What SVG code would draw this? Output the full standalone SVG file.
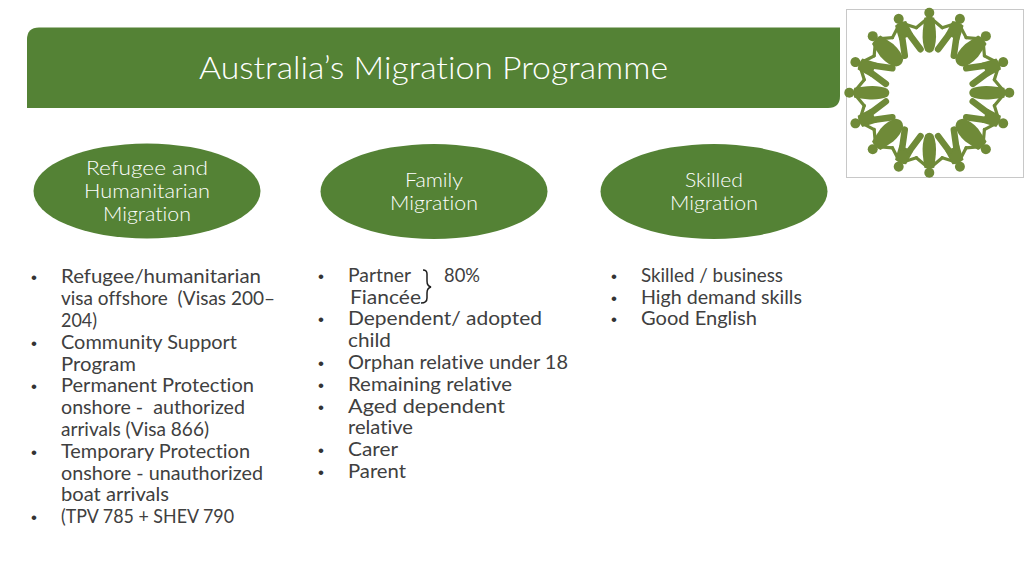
<svg xmlns="http://www.w3.org/2000/svg" width="1024" height="576" viewBox="0 0 1024 576">
<defs>
<style>
text{font-family:"Lato","Liberation Sans",sans-serif;fill:#404040;font-size:18.6px;white-space:pre;font-variant-ligatures:none}
.w{fill:#fff;font-size:19px;font-weight:300}
.t{fill:#fff;font-size:31px;font-weight:300}
.b{font-family:"Liberation Sans",sans-serif;font-size:17px;fill:#333}
.oval{fill:#548235}
.fig{fill:#6f8a38}
.leg{fill:none;stroke:#6f8a38;stroke-width:6.500;stroke-linecap:round}
.arm{fill:none;stroke:#6f8a38;stroke-width:3.200;stroke-linejoin:round;stroke-linecap:round}
.bar{fill:none;stroke:#1f1f1f;stroke-width:1.500}
</style>
<g id="arms"><circle cx="0" cy="-80" r="5" class="fig"/><path class="arm" d="M-4-72.500L-13-65M4-72.500L13-65"/></g>
<g id="dress"><use href="#arms"/><path class="fig" d="M-5-75Q0-77 5-75L6.500-62Q7.500-50 4-42Q0-38-4-42Q-7.500-50-6.500-62Z"/></g>
<g id="wide"><use href="#arms"/><path class="fig" d="M-6-75Q0-77 6-75L9-60Q9.500-48 5-42Q0-38-5-42Q-9.500-48-9-60Z"/></g>
<g id="trousers"><use href="#arms"/><path class="fig" d="M-6-75Q0-77 6-75L7.500-60L-7.500-60Z"/><path class="leg" d="M-4-61L-8.500-43.500M4-61L8.500-43.500"/></g>
</defs>
<rect width="1024" height="576" fill="#fff"/>
<g id="banner"><path d="M39 27.500H840V96Q840 108 828 108H27V39.500Q27 27.500 39 27.500Z" fill="#548235"/><text class="t" x="199" y="79" textLength="469" lengthAdjust="spacingAndGlyphs">Australia’s Migration Programme</text></g>
<g id="logo"><rect x="846.500" y="9.500" width="177" height="168" fill="#fff" stroke="#c8c8c8"/>
<g transform="translate(929.300 92.700)">
<use href="#dress"/><use href="#trousers" transform="rotate(22.500)"/><use href="#wide" transform="rotate(45)"/><use href="#trousers" transform="rotate(67.500)"/><use href="#dress" transform="rotate(90)"/><use href="#trousers" transform="rotate(112.500)"/><use href="#wide" transform="rotate(135)"/><use href="#trousers" transform="rotate(157.500)"/><use href="#dress" transform="rotate(180)"/><use href="#trousers" transform="rotate(202.500)"/><use href="#wide" transform="rotate(225)"/><use href="#trousers" transform="rotate(247.500)"/><use href="#dress" transform="rotate(270)"/><use href="#trousers" transform="rotate(292.500)"/><use href="#wide" transform="rotate(315)"/><use href="#trousers" transform="rotate(337.500)"/>
</g></g>
<g id="node-refugee"><ellipse class="oval" cx="147" cy="191" rx="113.500" ry="47.500"/><text class="w" x="86" y="175" textLength="122" lengthAdjust="spacingAndGlyphs">Refugee and</text><text class="w" x="84" y="198" textLength="126" lengthAdjust="spacingAndGlyphs">Humanitarian</text><text class="w" x="103" y="221" textLength="88" lengthAdjust="spacingAndGlyphs">Migration</text></g>
<g id="node-family"><ellipse class="oval" cx="434" cy="191.500" rx="113.500" ry="47.500"/><text class="w" x="405" y="187" textLength="58" lengthAdjust="spacingAndGlyphs">Family</text><text class="w" x="390" y="210" textLength="88" lengthAdjust="spacingAndGlyphs">Migration</text></g>
<g id="node-skilled"><ellipse class="oval" cx="714" cy="191.500" rx="113.500" ry="47.500"/><text class="w" x="685" y="187" textLength="58" lengthAdjust="spacingAndGlyphs">Skilled</text><text class="w" x="670" y="210" textLength="88" lengthAdjust="spacingAndGlyphs">Migration</text></g>
<g id="list-refugee">
<text class="b" x="31" y="283">•</text><text x="61" y="283" textLength="200" lengthAdjust="spacingAndGlyphs">Refugee/humanitarian</text>
<text x="61" y="305" textLength="214" lengthAdjust="spacingAndGlyphs">visa offshore  (Visas 200–</text>
<text x="61" y="327" textLength="36" lengthAdjust="spacingAndGlyphs">204)</text>
<text class="b" x="31" y="349">•</text><text x="61" y="349" textLength="176" lengthAdjust="spacingAndGlyphs">Community Support</text>
<text x="61" y="371" textLength="75" lengthAdjust="spacingAndGlyphs">Program</text>
<text class="b" x="31" y="392">•</text><text x="61" y="392" textLength="193" lengthAdjust="spacingAndGlyphs">Permanent Protection</text>
<text x="61" y="414" textLength="184" lengthAdjust="spacingAndGlyphs">onshore -  authorized</text>
<text x="61" y="436" textLength="148" lengthAdjust="spacingAndGlyphs">arrivals (Visa 866)</text>
<text class="b" x="31" y="458">•</text><text x="61" y="458" textLength="189" lengthAdjust="spacingAndGlyphs">Temporary Protection</text>
<text x="61" y="480" textLength="202" lengthAdjust="spacingAndGlyphs">onshore - unauthorized</text>
<text x="61" y="501" textLength="108" lengthAdjust="spacingAndGlyphs">boat arrivals</text>
<text class="b" x="31" y="523">•</text><text x="61" y="523" textLength="173" lengthAdjust="spacingAndGlyphs">(TPV 785 + SHEV 790</text>
</g>
<g id="list-family">
<text class="b" x="318" y="282">•</text><text x="348" y="282" textLength="63" lengthAdjust="spacingAndGlyphs">Partner</text><text x="444" y="282" textLength="36" lengthAdjust="spacingAndGlyphs">80%</text>
<text x="350" y="304" textLength="71" lengthAdjust="spacingAndGlyphs">Fiancée</text>
<path class="bar" d="M423 270Q427 270 427 274V281Q427 286 431 287Q427 288 427 293V298Q427 303 421 303"/>
<text class="b" x="318" y="325">•</text><text x="348" y="325" textLength="194" lengthAdjust="spacingAndGlyphs">Dependent/ adopted</text>
<text x="348" y="347" textLength="43" lengthAdjust="spacingAndGlyphs">child</text>
<text class="b" x="318" y="369">•</text><text x="348" y="369" textLength="220" lengthAdjust="spacingAndGlyphs">Orphan relative under 18</text>
<text class="b" x="318" y="391">•</text><text x="348" y="391" textLength="164" lengthAdjust="spacingAndGlyphs">Remaining relative</text>
<text class="b" x="318" y="413">•</text><text x="348" y="413" textLength="157" lengthAdjust="spacingAndGlyphs">Aged dependent</text>
<text x="348" y="434" textLength="65" lengthAdjust="spacingAndGlyphs">relative</text>
<text class="b" x="318" y="456">•</text><text x="348" y="456" textLength="50" lengthAdjust="spacingAndGlyphs">Carer</text>
<text class="b" x="318" y="478">•</text><text x="348" y="478" textLength="58" lengthAdjust="spacingAndGlyphs">Parent</text>
</g>
<g id="list-skilled">
<text class="b" x="611" y="282">•</text><text x="641" y="282" textLength="142" lengthAdjust="spacingAndGlyphs">Skilled / business</text>
<text class="b" x="611" y="304">•</text><text x="641" y="304" textLength="161" lengthAdjust="spacingAndGlyphs">High demand skills</text>
<text class="b" x="611" y="325">•</text><text x="641" y="325" textLength="116" lengthAdjust="spacingAndGlyphs">Good English</text>
</g>
</svg>
